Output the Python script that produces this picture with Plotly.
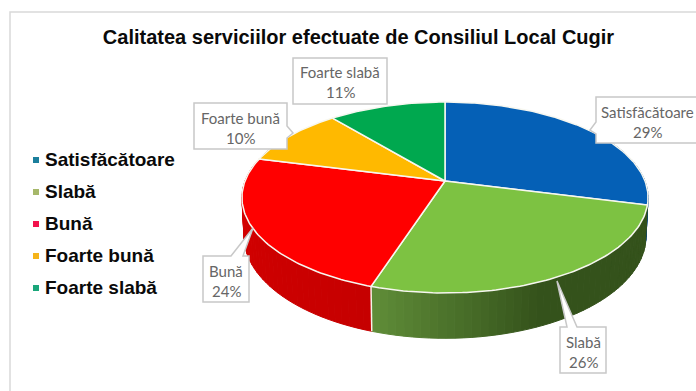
import math
import plotly.graph_objects as go

TITLE = "Calitatea serviciilor efectuate de Consiliul Local Cugir"
categories = ["Satisfăcătoare", "Slabă", "Bună", "Foarte bună", "Foarte slabă"]
values = [29, 26, 24, 10, 11]
top_colors = ["#0560B6", "#7DC242", "#FF0000", "#FFB900", "#00A84F"]
legend_colors = ["#1B7F9C", "#A6B86A", "#F2124C", "#F5B41A", "#1AA67A"]
# side shading: (colour near slice start, colour near slice end)
side_colors = [("#04427E", "#04427E"), ("#34521B", "#618F39"), ("#C60000", "#D80000"),
               ("#B88600", "#B88600"), ("#007A3A", "#007A3A")]

# pie projection (perspective ellipse in pixels)
CX, CY, A, B, K, DEPTH, SHRINK = 445, 181, 200, 92.6, 0.173, 37.5, 0.99


def project(deg, bottom=False):
    r = math.radians(deg)
    u, s = math.sin(r), -math.cos(r)
    w = 1 - K * s
    if bottom:
        return CX + SHRINK * A * u / w, CY + (B * s + DEPTH) / w
    return CX + A * u / w, CY + B * s / w


def mix(c1, c2, t):
    a = [int(c1[i:i + 2], 16) for i in (1, 3, 5)]
    b = [int(c2[i:i + 2], 16) for i in (1, 3, 5)]
    return "rgb(%d,%d,%d)" % tuple(round(p + (q - p) * t) for p, q in zip(a, b))


fig = go.Figure()
total = sum(values)
starts, acc = [], 0
for v in values:
    starts.append(acc * 360 / total)
    acc += v
ends = starts[1:] + [360]

# side walls
for i, (a0, a1) in enumerate(zip(starts, ends)):
    n = max(2, int((a1 - a0) / 2))
    for j in range(n):
        d0 = a0 + (a1 - a0) * j / n
        d1 = a0 + (a1 - a0) * (j + 1) / n
        if math.cos(math.radians((d0 + d1) / 2)) > 0.45:
            continue
        p = [project(d0), project(d1), project(d1, True), project(d0, True)]
        t = min(1, max(0, (j / n - 0.55) / 0.45)) if i == 1 else j / n
        col = mix(side_colors[i][0], side_colors[i][1], t)
        fig.add_trace(go.Scatter(
            x=[q[0] for q in p] + [p[0][0]], y=[q[1] for q in p] + [p[0][1]],
            mode="lines", fill="toself", fillcolor=col, line=dict(color=col, width=1),
            hoverinfo="skip", showlegend=False))

# white seam between the two visible walls
seam = [project(starts[2]), project(starts[2], True)]
fig.add_trace(go.Scatter(x=[q[0] for q in seam], y=[q[1] for q in seam], mode="lines",
                         line=dict(color="#F4F4E8", width=1.5), hoverinfo="skip", showlegend=False))

# top face
for i, (a0, a1) in enumerate(zip(starts, ends)):
    n = max(2, int(a1 - a0))
    arc = [project(a0 + (a1 - a0) * j / n) for j in range(n + 1)]
    fig.add_trace(go.Scatter(
        x=[CX] + [q[0] for q in arc] + [CX], y=[CY] + [q[1] for q in arc] + [CY],
        mode="lines", fill="toself", fillcolor=top_colors[i],
        line=dict(color="#F7F7F0", width=1.5), name=categories[i],
        hovertemplate=f"{categories[i]}: {values[i]}%<extra></extra>", showlegend=False))

# legend
legend_y = [161, 193, 225, 257, 289]
for name, col, y in zip(categories, legend_colors, legend_y):
    fig.add_trace(go.Scatter(x=[36], y=[y - 1], mode="markers",
                             marker=dict(symbol="square", size=6, color=col),
                             hoverinfo="skip", showlegend=False))
    fig.add_trace(go.Scatter(
        x=[45], y=[y], mode="text", text=[name], textposition="middle right",
        textfont=dict(family="Liberation Sans", size=19, color="#0A0A0A", weight="bold"),
        hoverinfo="skip", showlegend=False))

# callouts
callouts = {
    "Satisfăcătoare": ("M596,97 H698 V143 H596 V134 L590,130 L596,122 Z", 647, 112),
    "Slabă": ("M560,327 H567 L557,281 L577,327 H606 V373 H560 Z", 583, 342),
    "Bună": ("M203,256 H231 L253,228 L243,256 H249 V302 H203 Z", 226, 271),
    "Foarte bună": ("M194,103 H287 V126 L293,133 L287,138 V149 H194 Z", 240, 118),
    "Foarte slabă": ("M293,58 H387 V104 H293 Z", 340, 72),
}
shapes = [dict(type="path", xref="x", yref="y", path="M10,391 V12 H696",
               line=dict(color="#D9D9D9", width=1.5))]
annotations = []
for name, val in zip(categories, values):
    path, x, y = callouts[name]
    shapes.append(dict(type="path", xref="x", yref="y", path=path, fillcolor="#FFFFFF",
                       line=dict(color="#C8C8C8", width=1.5), layer="above"))
    for text, yy in ((name, y), (f"{val}%", y + 20)):
        annotations.append(dict(x=x, y=yy, xref="x", yref="y", text=text, showarrow=False,
                                xanchor="center", yanchor="middle",
                                font=dict(family="Lato", size=15, color="#666666")))

fig.update_layout(
    width=696, height=391, margin=dict(l=0, r=0, t=0, b=0),
    paper_bgcolor="#FFFFFF", plot_bgcolor="#FFFFFF", showlegend=False,
    title=dict(text=f"<b>{TITLE}</b>", x=358.5 / 696, y=1 - 37 / 391, xanchor="center",
               yanchor="middle", font=dict(family="Liberation Sans", size=20, color="#0A0A0A")),
    xaxis=dict(range=[0, 696], visible=False, fixedrange=True),
    yaxis=dict(range=[391, 0], visible=False, fixedrange=True),
    shapes=shapes, annotations=annotations)
fig.write_html("out.html", config=dict(displayModeBar=False),
               post_script="document.body.style.margin='0';document.body.style.overflow='hidden';")
